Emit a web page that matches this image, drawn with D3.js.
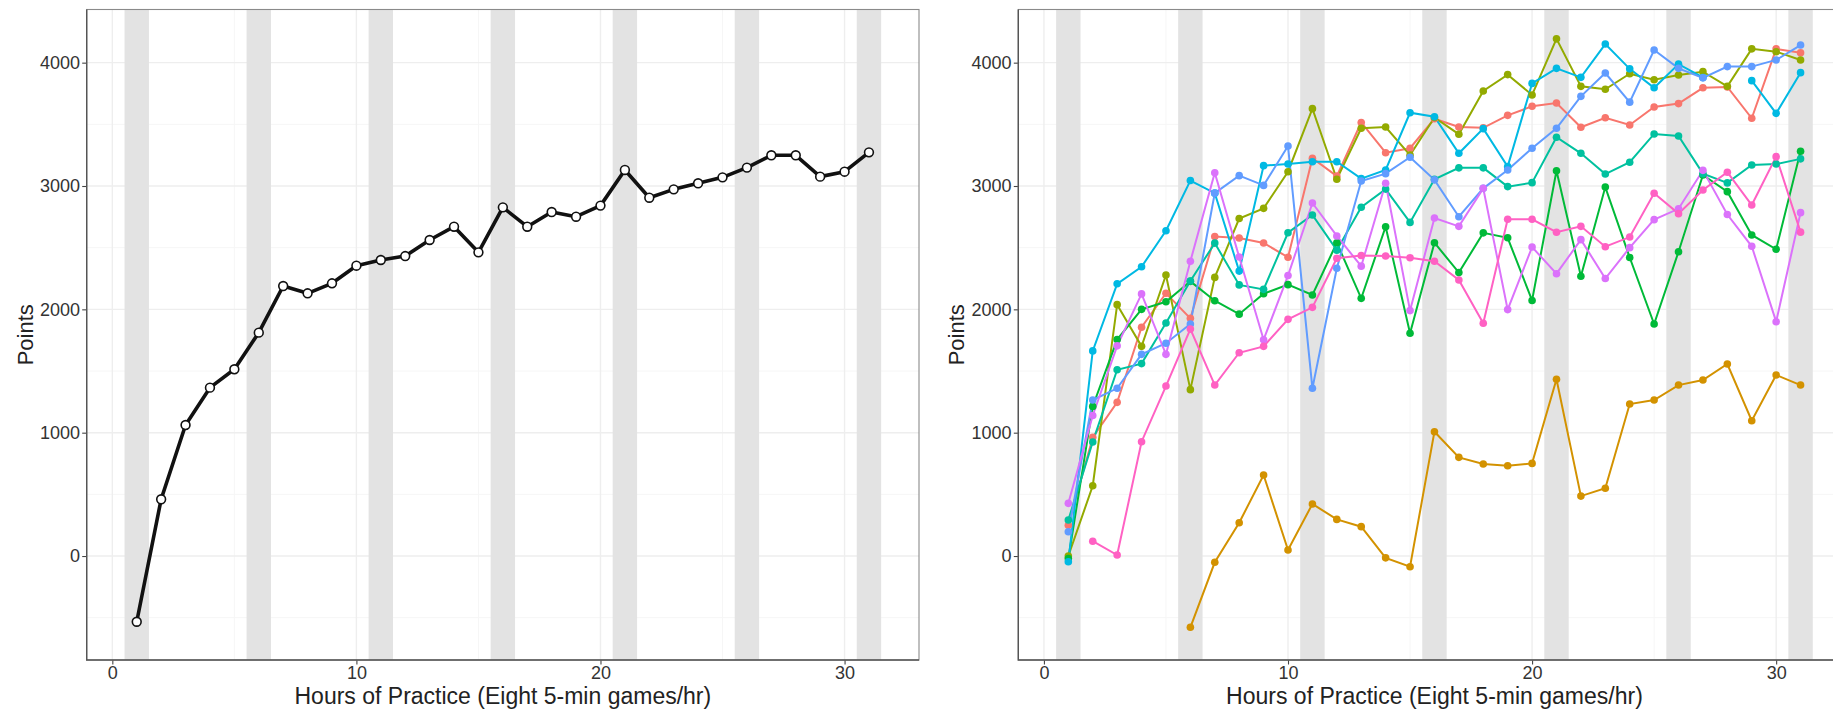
<!DOCTYPE html>
<html>
<head>
<meta charset="utf-8">
<script src="https://cdn.jsdelivr.net/npm/d3@7/dist/d3.min.js"></script>
<style>
body { margin: 0; background: #fff; }
text { font-family: "Liberation Sans", Arial, Helvetica, sans-serif; }
</style>
</head>
<body>
<script>
// data
const hours = [1, 2, 3, 4, 5, 6, 7, 8, 9, 10, 11, 12, 13, 14, 15, 16, 17, 18, 19, 20,
               21, 22, 23, 24, 25, 26, 27, 28, 29, 30, 31]
const shadedHours = [1, 6, 11, 16, 21, 26, 31]
const xTicks = [0, 10, 20, 30]
const yTicks = [0, 1000, 2000, 3000, 4000]

const averagePoints = [-533, 460, 1062, 1365, 1514, 1811, 2189, 2130, 2211, 2354,
                       2400, 2432, 2562, 2670, 2462, 2827, 2670, 2789, 2751, 2841,
                       3130, 2905, 2973, 3022, 3070, 3149, 3249, 3249, 3076, 3116, 3273]

const player1 = [250, 962, 1246, 1855, 2131, 1927, 2590, 2578, 2538, 2422,
                 3225, 3080, 3515, 3270, 3306, 3545, 3478, 3472, 3573, 3646,
                 3673, 3476, 3553, 3495, 3640, 3668, 3796, 3803, 3549, 4112, 4080]
const player2 = [null, null, null, null, null, -578, -51, 270, 657, 49,
                 422, 297, 238, -15, -87, 1008, 800, 746, 732, 751,
                 1433, 486, 549, 1232, 1265, 1386, 1427, 1557, 1097, 1468, 1386]
const player3 = [0, 570, 2038, 1700, 2279, 1349, 2259, 2736, 2819, 3116,
                 3627, 3055, 3468, 3478, 3250, 3555, 3420, 3770, 3903, 3738,
                 4193, 3808, 3784, 3910, 3862, 3900, 3927, 3808, 4112, 4089, 4022]
const player4 = [-20, 1213, 1755, 2000, 2061, 2227, 2070, 1961, 2127, 2200,
                 2116, 2540, 2089, 2670, 1806, 2540, 2298, 2620, 2580, 2072,
                 3124, 2268, 2991, 2420, 1881, 2467, 3089, 2954, 2603, 2487, 3282]
const player5 = [292, 925, 1510, 1560, 1889, 2230, 2537, 2198, 2162, 2621,
                 2765, 2480, 2828, 2975, 2705, 3054, 3147, 3147, 2995, 3027,
                 3395, 3265, 3097, 3193, 3422, 3405, 3100, 3025, 3170, 3178, 3220]
const player6 = [-46, 1663, 2207, 2345, 2637, 3044, 2942, 2310, 3165, 3178,
                 3197, 3197, 3060, 3130, 3594, 3562, 3265, 3465, 3157, 3832,
                 3954, 3881, 4151, 3950, 3796, 3988, 3880, null, 3854, 3589, 3919]
const player7 = [197, 1265, 1360, 1635, 1725, 1881, 2942, 3084, 3005, 3324,
                 1360, 2333, 3040, 3100, 3233, 3050, 2751, 2981, 3130, 3306,
                 3468, 3727, 3916, 3680, 4103, 3954, 3877, 3968, 3968, 4022, 4143]
const player8 = [427, 1139, 1704, 2125, 1635, 2390, 3108, 2424, 1754, 2274,
                 2862, 2595, 2350, 3022, 1990, 2740, 2673, 2981, 1998, 2505,
                 2289, 2565, 2250, 2500, 2727, 2815, 3127, 2769, 2511, 1900, 2784]
const player9 = [null, 120, 8, 927, 1378, 1840, 1386, 1648, 1700, 1919,
                 2016, 2414, 2436, 2432, 2418, 2390, 2238, 1887, 2730, 2730,
                 2625, 2673, 2508, 2586, 2941, 2776, 2968, 3112, 2846, 3238, 2626]

const players = [player1, player2, player3, player4, player5, player6, player7, player8, player9]
const playerColors = ['#F8766D', '#D39200', '#93AA00', '#00BA38', '#00C19F',
                      '#00B9E3', '#619CFF', '#DB72FB', '#FF61C3']

const svg = d3.select('body').append('svg')
    .attr('width', 1833)
    .attr('height', 709)

const panelTop = 9.5
const panelBottom = 660
const panelWidth = 832.3

function drawPanel(left) {
    const right = left + panelWidth
    const x = d3.scaleLinear().domain([-1.05, 33.05]).range([left, right])
    const y = d3.scaleLinear().domain([-843, 4431]).range([panelBottom, panelTop])
    const g = svg.append('g')

    // minor grid
    const xMinor = [5, 15, 25]
    const yMinor = [-500, 500, 1500, 2500, 3500]
    g.selectAll('.xminor').data(xMinor).enter().append('line')
        .attr('x1', d => x(d)).attr('x2', d => x(d))
        .attr('y1', panelTop).attr('y2', panelBottom)
        .attr('stroke', '#f6f6f6').attr('stroke-width', 1)
    g.selectAll('.yminor').data(yMinor).enter().append('line')
        .attr('x1', left).attr('x2', right)
        .attr('y1', d => y(d)).attr('y2', d => y(d))
        .attr('stroke', '#f6f6f6').attr('stroke-width', 1)
    // major grid
    g.selectAll('.xmajor').data(xTicks).enter().append('line')
        .attr('x1', d => x(d)).attr('x2', d => x(d))
        .attr('y1', panelTop).attr('y2', panelBottom)
        .attr('stroke', '#eeeeee').attr('stroke-width', 1.4)
    g.selectAll('.ymajor').data(yTicks).enter().append('line')
        .attr('x1', left).attr('x2', right)
        .attr('y1', d => y(d)).attr('y2', d => y(d))
        .attr('stroke', '#eeeeee').attr('stroke-width', 1.4)

    // shaded hours
    g.selectAll('.band').data(shadedHours).enter().append('rect')
        .attr('x', d => x(d - 0.5))
        .attr('width', d => x(d + 0.5) - x(d - 0.5))
        .attr('y', panelTop)
        .attr('height', panelBottom - panelTop)
        .attr('fill', '#e3e3e3')

    // axes
    const yAxis = g.append('g')
        .attr('transform', `translate(${left},0)`)
        .call(d3.axisLeft(y).tickValues(yTicks).tickFormat(d3.format('d'))
            .tickSize(4.5).tickPadding(2.2))
    const xAxis = g.append('g')
        .attr('transform', `translate(0,${panelBottom})`)
        .call(d3.axisBottom(x).tickValues(xTicks).tickFormat(d3.format('d'))
            .tickSize(4.5).tickPadding(1.5))
    for (const a of [yAxis, xAxis]) {
        a.select('.domain').remove()
        a.selectAll('line').attr('stroke', '#444').attr('stroke-width', 1.1)
        a.selectAll('text')
            .attr('fill', '#333')
            .style('font-size', '18px')
            .style('font-family', '"Liberation Sans", Arial, sans-serif')
    }

    // border
    g.append('rect')
        .attr('x', left).attr('y', panelTop)
        .attr('width', panelWidth).attr('height', panelBottom - panelTop)
        .attr('fill', 'none').attr('stroke', '#8a8a8a').attr('stroke-width', 1.1)
    g.append('path')
        .attr('d', `M${left},${panelTop}V${panelBottom}H${right}`)
        .attr('fill', 'none').attr('stroke', '#555').attr('stroke-width', 1.4)

    // titles
    g.append('text')
        .attr('x', (left + right) / 2)
        .attr('y', 704)
        .attr('text-anchor', 'middle')
        .attr('fill', '#222')
        .style('font-size', '23px')
        .text('Hours of Practice (Eight 5-min games/hr)')
    g.append('text')
        .attr('transform', `translate(${left - 54},${(panelTop + panelBottom) / 2}) rotate(-90)`)
        .attr('text-anchor', 'middle')
        .attr('fill', '#222')
        .style('font-size', '22px')
        .text('Points')

    return { g, x, y }
}

// left panel: average curve
const leftPanel = drawPanel(86.7)
const avgData = hours.map((h, i) => ({ h: h, v: averagePoints[i] }))
const lineL = d3.line().x(d => leftPanel.x(d.h)).y(d => leftPanel.y(d.v))
leftPanel.g.append('path')
    .datum(avgData)
    .attr('d', lineL)
    .attr('fill', 'none')
    .attr('stroke', '#111')
    .attr('stroke-width', 3.6)
    .attr('stroke-linejoin', 'round')
leftPanel.g.selectAll('.avgpt').data(avgData).enter().append('circle')
    .attr('cx', d => leftPanel.x(d.h))
    .attr('cy', d => leftPanel.y(d.v))
    .attr('r', 4.4)
    .attr('fill', '#fff')
    .attr('stroke', '#111')
    .attr('stroke-width', 1.6)

// right panel: individual players
const rightPanel = drawPanel(1018.3)
const lineR = d3.line()
    .defined(d => d.v != null)
    .x(d => rightPanel.x(d.h))
    .y(d => rightPanel.y(d.v))
const playerData = players.map(p => hours.map((h, i) => ({ h: h, v: p[i] })))

playerData.forEach((pts, k) => {
    rightPanel.g.append('path')
        .datum(pts)
        .attr('d', lineR)
        .attr('fill', 'none')
        .attr('stroke', playerColors[k])
        .attr('stroke-width', 2)
})
playerData.forEach((pts, k) => {
    rightPanel.g.selectAll('.pt' + k).data(pts.filter(d => d.v != null)).enter().append('circle')
        .attr('cx', d => rightPanel.x(d.h))
        .attr('cy', d => rightPanel.y(d.v))
        .attr('r', 3.8)
        .attr('fill', playerColors[k])
})
</script>
</body>
</html>
